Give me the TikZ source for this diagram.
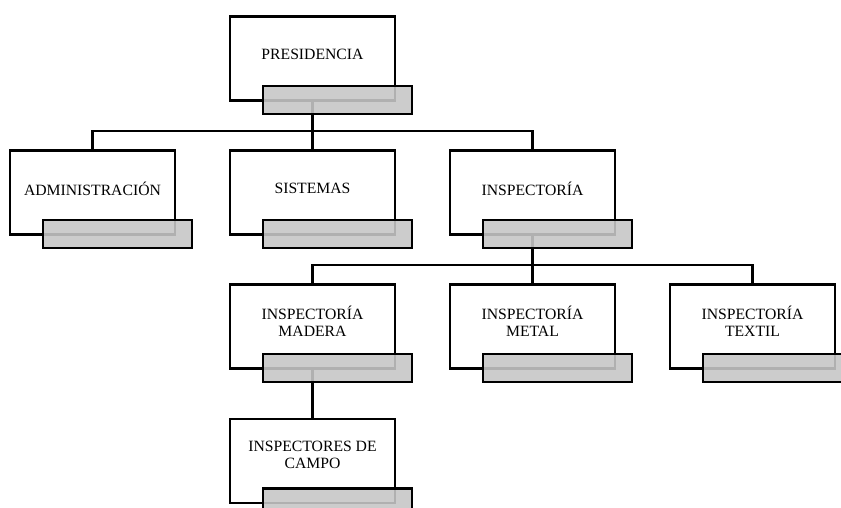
\documentclass[tikz,border=0pt]{standalone}
\usepackage{fontspec}
\setmainfont{Liberation Serif}
\usetikzlibrary{calc}

\begin{document}
\begin{tikzpicture}[x=1pt,y=1pt,
  orgbox/.style={draw=black, fill=white, line width=2.5pt,
    minimum width=165pt, minimum height=84pt, inner sep=0pt},
  orgtab/.style={draw=black, line width=2.5pt, fill={rgb,255:red,198;green,198;blue,198},
    fill opacity=0.89, minimum width=149pt, minimum height=28pt,
    inner sep=0pt, anchor=north west},
  orglabel/.style={font=\fontsize{15.7}{16.5}\selectfont, align=center, inner sep=0pt},
  link/.style={draw=black, line width=2.5pt}
]
\clip (0,0) rectangle (841,-508);

% boxes
\node[orgbox] (pres) at (312.5,-58.5) {};
\node[orgbox] (adm)  at (92.5,-192.5) {};
\node[orgbox] (sis)  at (312.5,-192.5) {};
\node[orgbox] (insp) at (532.5,-192.5) {};
\node[orgbox] (mad)  at (312.5,-326.5) {};
\node[orgbox] (met)  at (532.5,-326.5) {};
\node[orgbox] (tex)  at (752.5,-326.5) {};
\node[orgbox] (camp) at (312.5,-461) {};

% labels
\node[orglabel] (pres-l) at ($(pres.center)+(0,4.5)$) {PRESIDENCIA};
\node[orglabel] (adm-l)  at ($(adm.center)+(0,4)$)    {ADMINISTRACIÓN};
\node[orglabel] (sis-l)  at ($(sis.center)+(0,4.5)$)  {SISTEMAS};
\node[orglabel] (insp-l) at ($(insp.center)+(0,4)$)   {INSPECTORÍA};
\node[orglabel] (mad-l)  at ($(mad.center)+(0,5)$)    {INSPECTORÍA\\MADERA};
\node[orglabel] (met-l)  at ($(met.center)+(0,5)$)    {INSPECTORÍA\\METAL};
\node[orglabel] (tex-l)  at ($(tex.center)+(0,5)$)    {INSPECTORÍA\\TEXTIL};
\node[orglabel] (camp-l) at ($(camp.center)+(0,6)$)   {INSPECTORES DE\\CAMPO};

% connectors
\coordinate (bus1) at ($(pres.south)+(0,-29.5)$);
\draw[link] (pres.south) -- (bus1) -| (adm.north);
\draw[link] (bus1) -| (insp.north);
\draw[link] (bus1) -- (sis.north);

\coordinate (bus2) at ($(insp.south)+(0,-29)$);
\draw[link] (insp.south) -- (bus2) -| (mad.north);
\draw[link] (bus2) -| (tex.north);
\draw[link] (bus2) -- (met.north);

\draw[link] (mad.south) -- (camp.north);

% grey tabs over the lower edge of each box
\foreach \b in {pres,adm,sis,insp,mad,met,tex,camp}
  \node[orgtab] (\b-tab) at ($(\b.south west)+(33,17)$) {};
\end{tikzpicture}
\end{document}
